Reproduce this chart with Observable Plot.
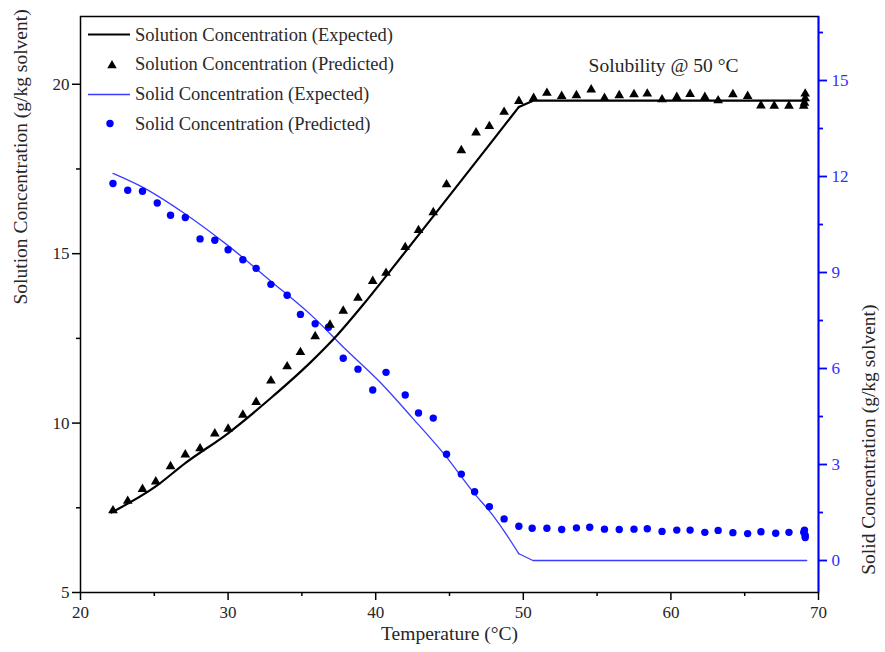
<!DOCTYPE html>
<html><head><meta charset="utf-8">
<script src="https://cdn.jsdelivr.net/npm/d3@7"></script>
<script src="https://cdn.jsdelivr.net/npm/@observablehq/plot@0.6"></script>
<style>
body{margin:0;background:#fff}
#wrap{position:relative;width:885px;height:652px;font-family:"Liberation Serif","Times New Roman",serif}
#legend{position:absolute;left:86px;top:20px;font-size:18.5px;color:#2a2a2a;line-height:1}
.row{display:flex;align-items:center;height:29.7px}
.row svg{width:47px;height:29px;flex:none}
.row span{margin-left:2px}
</style></head>
<body>
<div id="wrap"><div id="legend"></div></div>
<script>
// ---- data ----
const solExpT = [22.1, 25.1, 27.1, 30.0, 32.9, 35.6, 37.4, 39.2, 41.0, 44.4, 47.8, 49.7, 50.7, 69.2];
const solExpC = [7.36, 8.13, 8.82, 9.70, 10.74, 11.80, 12.60, 13.52, 14.50, 16.38, 18.27, 19.33, 19.52, 19.52];

const solPredT = [22.2,23.2,24.2,25.1,26.1,27.1,28.1,29.1,30.0,31.0,31.9,32.9,34.0,34.9,35.9,36.9,37.8,38.8,39.8,40.7,42.0,42.9,43.9,44.8,45.8,46.8,47.7,48.7,49.7,50.7,51.6,52.6,53.6,54.6,55.5,56.5,57.5,58.4,59.4,60.4,61.3,62.3,63.2,64.2,65.2,66.1,67.0,68.0,69.0,69.05,69.1,69.1];
const solPredC = [7.42,7.70,8.05,8.27,8.72,9.07,9.25,9.69,9.83,10.24,10.62,11.25,11.67,12.09,12.56,12.90,13.31,13.69,14.19,14.43,15.19,15.69,16.22,17.04,18.05,18.57,18.76,19.18,19.50,19.59,19.74,19.65,19.67,19.84,19.59,19.67,19.70,19.72,19.55,19.62,19.71,19.62,19.52,19.70,19.65,19.37,19.36,19.36,19.36,19.45,19.58,19.72];

const solidExpT = [22.2, 24.2, 27.1, 30.0, 32.9, 35.9, 37.8, 40.3, 42.5, 44.8, 46.7, 47.7, 48.7, 49.7, 50.65, 69.2];
const solidExpC = [12.10, 11.67, 10.83, 9.84, 8.73, 7.55, 6.67, 5.57, 4.45, 3.23, 2.08, 1.55, 0.92, 0.21, 0, 0];

const solidPredT = [22.2,23.2,24.2,25.2,26.1,27.1,28.1,29.1,30.0,31.0,31.9,32.9,34.0,34.9,35.9,36.8,37.8,38.8,39.8,40.7,42.0,42.9,43.9,44.8,45.8,46.7,47.7,48.7,49.7,50.6,51.6,52.6,53.6,54.5,55.5,56.5,57.5,58.4,59.4,60.4,61.3,62.3,63.2,64.2,65.2,66.1,67.1,68.0,69.0,69.05,69.1,69.1];
const solidPredC = [11.78,11.57,11.54,11.17,10.79,10.72,10.05,10.01,9.71,9.40,9.13,8.63,8.29,7.69,7.40,7.29,6.32,5.98,5.33,5.88,5.17,4.61,4.45,3.32,2.70,2.15,1.68,1.30,1.07,1.01,1.01,0.97,1.02,1.04,0.98,0.97,0.98,0.99,0.91,0.95,0.95,0.88,0.94,0.87,0.84,0.90,0.85,0.88,0.88,0.95,0.78,0.72];

const kneeT = 49.7; // where each expected curve turns onto its plateau

const xTicks = [20, 30, 40, 50, 60, 70];
const xMinor = [25, 35, 45, 55, 65];
const leftTicks = [5, 10, 15, 20];
const leftMinor = [7.5, 12.5, 17.5];
const rightTicks = [0, 3, 6, 9, 12, 15];
const rightMinor = [1.5, 4.5, 7.5, 10.5, 13.5, 16.5];
const xDomain = [20, 70];
const leftDomain = [5, 22];
const rightDomain = [-1, 17];

const legendLabels = ["Solution Concentration (Expected)", "Solution Concentration (Predicted)", "Solid Concentration (Expected)", "Solid Concentration (Predicted)"];
const annotations = [{t: 59.5, c: 20.56, text: "Solubility @ 50 °C"}];
const titles = {x: "Temperature (°C)", yLeft: "Solution Concentration (g/kg solvent)", yRight: "Solid Concentration (g/kg solvent)"};

// ---- build ----
const toLeft = d3.scaleLinear(rightDomain, leftDomain);
const zip = (T, C) => T.map((t, i) => ({t, c: C[i]}));
const solExp = zip(solExpT, solExpC);
const solPred = zip(solPredT, solPredC);
const solidExp = zip(solidExpT, solidExpC);
const solidPred = zip(solidPredT, solidPredC);
const rise = arr => arr.filter(d => d.t <= kneeT);
const plateau = arr => arr.filter(d => d.t >= kneeT);

const BLUE = "#0000ff";
const LINEBLUE = "#3b3bff";
const TXT = "#262626";
const blank = () => "";

const chart = Plot.plot({
  width: 885, height: 652,
  marginLeft: 80, marginRight: 67, marginTop: 16, marginBottom: 60,
  x: {domain: xDomain},
  y: {domain: leftDomain},
  style: {fontFamily: '"Liberation Serif","Times New Roman",serif', fontSize: "17px", color: TXT, background: "white"},
  marks: [
    Plot.line(rise(solidExp), {x: "t", y: d => toLeft(d.c), stroke: LINEBLUE, strokeWidth: 1.3, curve: "monotone-x"}),
    Plot.line(plateau(solidExp), {x: "t", y: d => toLeft(d.c), stroke: LINEBLUE, strokeWidth: 1.3}),
    Plot.line(rise(solExp), {x: "t", y: "c", stroke: "black", strokeWidth: 2.2, curve: "monotone-x"}),
    Plot.line(plateau(solExp), {x: "t", y: "c", stroke: "black", strokeWidth: 2.2}),
    Plot.dot(solidPred, {x: "t", y: d => toLeft(d.c), r: 3.7, fill: BLUE}),
    Plot.dot(solPred, {x: "t", y: "c", symbol: "triangle", r: 3.6, fill: "black"}),
    Plot.text(annotations, {x: "t", y: "c", text: "text", fontSize: 19.5, fill: TXT}),
    Plot.frame({stroke: "black", strokeWidth: 1.5}),
    Plot.ruleX([xDomain[1]], {stroke: BLUE, strokeWidth: 1.8}),
    Plot.axisX(xTicks, {tickSize: 8, tickPadding: 5, strokeWidth: 1.5, stroke: "black", label: null}),
    Plot.axisX(xMinor, {tickSize: 4, strokeWidth: 1.5, stroke: "black", tickFormat: blank, label: null}),
    Plot.axisY(leftTicks, {anchor: "left", tickSize: 8, tickPadding: 3, strokeWidth: 1.5, stroke: "black", label: null}),
    Plot.axisY(leftMinor, {anchor: "left", tickSize: 4, strokeWidth: 1.5, stroke: "black", tickFormat: blank, label: null}),
    Plot.axisY(rightTicks.map(v => toLeft(v)), {anchor: "right", tickSize: 8, tickPadding: 5, strokeWidth: 1.8, stroke: BLUE, fill: "#3030ff", tickFormat: d => String(Math.round(toLeft.invert(d) * 10) / 10), label: null}),
    Plot.axisY(rightMinor.map(v => toLeft(v)), {anchor: "right", tickSize: 4, strokeWidth: 1.8, stroke: BLUE, tickFormat: blank, label: null}),
    Plot.text([titles.x], {frameAnchor: "bottom", dy: 47, fontSize: 19.5, fill: TXT, text: d => d}),
    Plot.text([titles.yLeft], {frameAnchor: "left", dx: -60, rotate: -90, fontSize: 19.5, fill: TXT, text: d => d}),
    Plot.text([titles.yRight], {frameAnchor: "right", dx: 50, rotate: -90, fontSize: 19.5, fill: TXT, text: d => d})
  ]
});
document.getElementById("wrap").prepend(chart);

// ---- legend ----
const swatches = [
  '<line x1="2" y1="14.5" x2="44" y2="14.5" stroke="black" stroke-width="2.2"/>',
  '<path d="M26,10 L30.7,18.2 L21.3,18.2 Z" fill="black"/>',
  '<line x1="2" y1="14.5" x2="44" y2="14.5" stroke="' + LINEBLUE + '" stroke-width="1.3"/>',
  '<circle cx="24" cy="14.5" r="3.7" fill="' + BLUE + '"/>'
];
const leg = document.getElementById("legend");
legendLabels.forEach((lab, i) => {
  const row = document.createElement("div");
  row.className = "row";
  row.innerHTML = '<svg viewBox="0 0 47 29">' + swatches[i] + '</svg><span>' + lab + '</span>';
  leg.appendChild(row);
});
</script>
</body></html>
